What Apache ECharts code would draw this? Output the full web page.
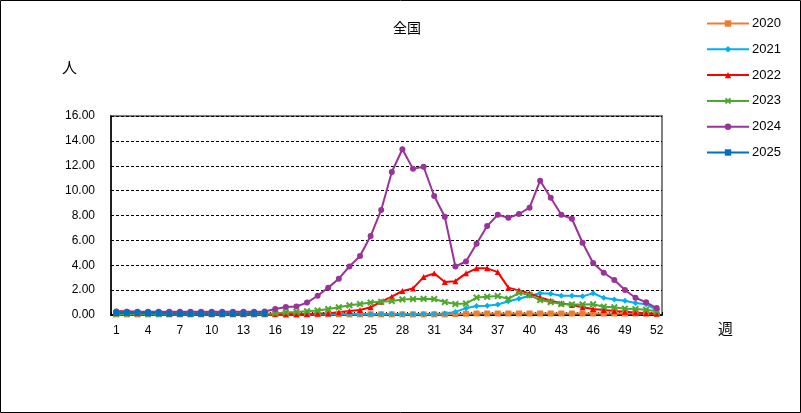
<!DOCTYPE html>
<html><head><meta charset="utf-8">
<script src="https://cdn.jsdelivr.net/npm/echarts@6/dist/echarts.min.js"></script>
<style>html,body{margin:0;padding:0;background:#fff}#c{width:801px;height:413px}</style>
</head><body><div id="c"></div>
<script>
var weeks = ['1','2','3','4','5','6','7','8','9','10','11','12','13','14','15','16','17','18','19','20','21','22','23','24','25','26','27','28','29','30','31','32','33','34','35','36','37','38','39','40','41','42','43','44','45','46','47','48','49','50','51','52'];
var y2020 = [0.05,0.05,0.05,0.05,0.05,0.05,0.05,0.05,0.05,0.05,0.05,0.05,0.05,0.05,0.05,0.05,0.05,0.05,0.05,0.05,0.05,0.05,0.05,0.05,0.05,0.05,0.05,0.05,0.05,0.05,0.05,0.05,0.08,0.1,0.12,0.12,0.12,0.12,0.12,0.12,0.12,0.12,0.12,0.12,0.12,0.12,0.12,0.12,0.12,0.12,0.12,0.12];
var y2021 = [0.15,0.12,0.1,0.1,0.08,0.08,0.08,0.08,0.08,0.08,0.08,0.08,0.08,0.08,0.08,0.08,0.08,0.08,0.08,0.08,0.08,0.08,0.08,0.08,0.08,0.08,0.08,0.08,0.08,0.08,0.1,0.12,0.25,0.55,0.72,0.75,0.85,1.1,1.3,1.55,1.75,1.7,1.55,1.55,1.5,1.75,1.38,1.25,1.15,0.97,0.87,0.4];
var y2022 = [0.3,0.3,0.25,0.2,0.18,0.15,0.12,0.12,0.12,0.1,0.1,0.1,0.1,0.1,0.1,0.08,0.06,0.06,0.08,0.12,0.15,0.22,0.32,0.4,0.62,1.07,1.47,1.93,2.14,3.05,3.35,2.65,2.72,3.35,3.75,3.75,3.45,2.2,1.98,1.74,1.42,1.15,0.94,0.8,0.62,0.48,0.4,0.32,0.27,0.2,0.15,0.1];
var y2023 = [0.1,0.1,0.1,0.1,0.1,0.1,0.1,0.1,0.1,0.1,0.1,0.1,0.1,0.1,0.1,0.12,0.22,0.25,0.3,0.36,0.48,0.62,0.78,0.88,1.0,1.06,1.12,1.25,1.28,1.3,1.28,1.04,0.88,0.92,1.4,1.46,1.52,1.3,1.78,1.6,1.2,1.04,0.88,0.85,0.85,0.86,0.67,0.62,0.51,0.48,0.43,0.3];
var y2024 = [0.28,0.27,0.27,0.27,0.27,0.27,0.27,0.27,0.27,0.27,0.27,0.27,0.27,0.27,0.28,0.48,0.64,0.68,1.0,1.55,2.2,2.92,3.9,4.75,6.35,8.45,11.5,13.33,11.75,11.92,9.57,7.9,3.9,4.3,5.73,7.15,8.06,7.82,8.12,8.63,10.8,9.43,8.06,7.74,5.81,4.18,3.4,2.81,2.01,1.39,1.02,0.56];
var y2025 = [0.16,0.18,0.16,0.15,0.15,0.11,0.11,0.11,0.11,0.11,0.11,0.11,0.11,0.12,0.12];
var yTicks = [0,2,4,6,8,10,12,14,16];

var names = ['2020','2021','2022','2023','2024','2025'];
var datas = [y2020,y2021,y2022,y2023,y2024,y2025];
var colors = ['#ED7D31','#00B0F0','#FF0000','#4EA72E','#993399','#0070C0'];
var symbols = ['rect','diamond','triangle','path://M0,2 L2,0 L5,3 L8,0 L10,2 L7,5 L10,8 L8,10 L5,7 L2,10 L0,8 L3,5 Z','circle','rect'];
var sizes = [6,6,6,7,6,6];
var FONT = '"Liberation Sans", Arial, sans-serif';
var JFONT = '"Noto Sans CJK JP", sans-serif';

var series = names.map(function(n,i){
  return {name:n,type:'line',data:datas[i],symbol:symbols[i],symbolSize:sizes[i],
    showAllSymbol:true,lineStyle:{color:colors[i],width:2},itemStyle:{color:colors[i]},
    animation:false,emphasis:{disabled:true}};
});

var chart = echarts.init(document.getElementById('c'),null,{renderer:'canvas'});
chart.setOption({
  animation:false,
  graphic:[
    {type:'rect',shape:{x:0.5,y:0.5,width:800,height:412},style:{fill:'none',stroke:'#000',lineWidth:1},silent:true},
    {type:'text',left:393,top:21,style:{text:'全国',font:'14px '+JFONT,fill:'#000'}},
    {type:'text',left:62,top:60,style:{text:'人',font:'15px '+JFONT,fill:'#000'}},
    {type:'text',left:718,top:321,style:{text:'週',font:'15px '+JFONT,fill:'#000'}}
  ],
  legend:{orient:'vertical',left:701,top:12,padding:5,itemWidth:42,itemHeight:8,itemGap:12.8,
    textStyle:{fontFamily:FONT,fontSize:13,color:'#000',padding:[0,0,0,-2]},data:names},
  grid:{left:111,right:139,top:116,bottom:98,show:true,borderColor:'#808080',borderWidth:2,backgroundColor:'#fff'},
  xAxis:{type:'category',data:weeks,boundaryGap:true,
    axisLine:{lineStyle:{color:'#000',width:1.5}},
    axisTick:{show:true,inside:true,length:3,interval:0,lineStyle:{color:'#000'}},
    axisLabel:{interval:function(i){return i%3===0;},fontFamily:FONT,fontSize:12,color:'#000',margin:10},
    splitLine:{show:false}},
  yAxis:{type:'value',min:yTicks[0],max:yTicks[yTicks.length-1],interval:2,
    axisLine:{show:true,lineStyle:{color:'#000',width:1.5}},axisTick:{show:false},
    axisLabel:{formatter:function(v){return v.toFixed(2);},fontFamily:FONT,fontSize:12,color:'#000',margin:16},
    splitLine:{show:true,lineStyle:{color:'#000',type:[3,2],width:1}}},
  series:series
});
</script></body></html>
